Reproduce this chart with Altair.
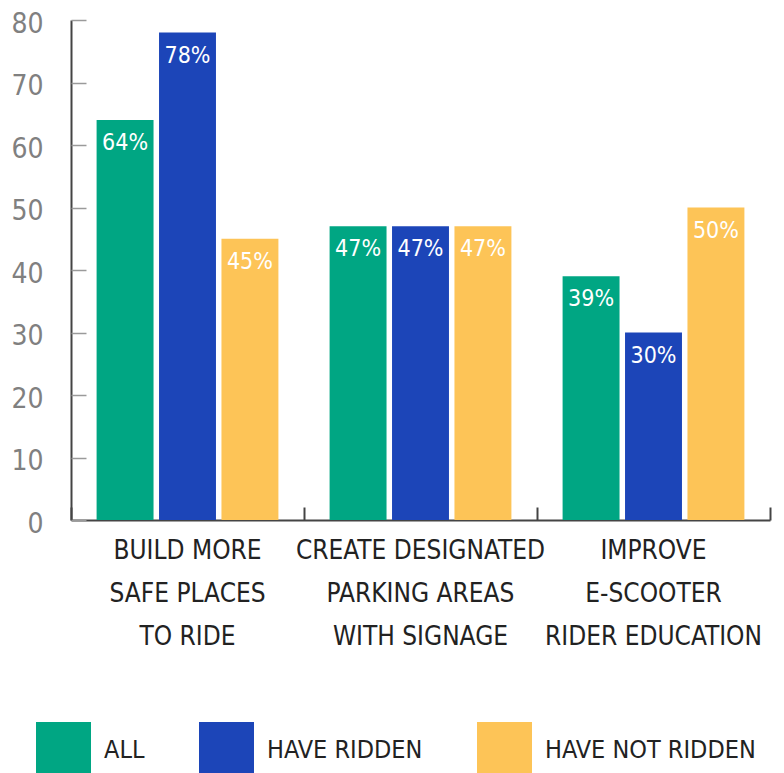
import altair as alt
import pandas as pd

categories = [
    "BUILD MORE|SAFE PLACES|TO RIDE",
    "CREATE DESIGNATED|PARKING AREAS|WITH SIGNAGE",
    "IMPROVE|E-SCOOTER|RIDER EDUCATION",
]
series = ["ALL", "HAVE RIDDEN", "HAVE NOT RIDDEN"]
all_vals = [64, 47, 39]
ridden_vals = [78, 47, 30]
not_ridden_vals = [45, 47, 50]
colors = ["#00A683", "#1C45B8", "#FDC457"]
y_ticks = [0, 10, 20, 30, 40, 50, 60, 70, 80]

rows = []
for s, vals in zip(series, [all_vals, ridden_vals, not_ridden_vals]):
    for c, v in zip(categories, vals):
        rows.append({"category": c, "group": s, "value": v, "label": f"{v}%"})
df = pd.DataFrame(rows)

FONT = "DejaVu Sans Condensed, Liberation Sans Narrow, Roboto, sans-serif"

xo = alt.XOffset("group:N", sort=series,
                 scale=alt.Scale(paddingInner=0.088, paddingOuter=0.41))

bars = alt.Chart(df).mark_bar().encode(
    x=alt.X("category:N", sort=categories,
            scale=alt.Scale(paddingInner=0, paddingOuter=0),
            axis=alt.Axis(title=None, labelAngle=0,
                          labelExpr="split(datum.label, '|')",
                          ticks=False, tickSize=0, labelPadding=17,
                          labelFontSize=26, labelFont=FONT, labelColor="#222222",
                          labelLineHeight=43, labelLimit=0,
                          domainColor="#444444", domainWidth=2)),
    xOffset=xo,
    y=alt.Y("value:Q", scale=alt.Scale(domain=[0, 80], nice=False),
            axis=alt.Axis(title=None, values=y_ticks, ticks=False, tickSize=0,
                          labelPadding=28, labelFontSize=28, labelFont=FONT,
                          labelOffset=4,
                          labelColor="#808080", domainColor="#444444",
                          domainWidth=2, grid=False)),
    color=alt.Color("group:N", sort=series,
                    scale=alt.Scale(domain=series, range=colors),
                    legend=alt.Legend(title=None, orient="none", legendX=-35,
                                      legendY=702, direction="horizontal",
                                      symbolType="square", symbolSize=3025,
                                      symbolStrokeWidth=0, symbolOpacity=1,
                                      labelFontSize=25, labelFont=FONT,
                                      labelColor="#222222", labelOffset=13,
                                      columnPadding=54, padding=0, labelLimit=0)),
)

text = alt.Chart(df).mark_text(baseline="top", dy=12, color="white",
                               fontSize=23, font=FONT).encode(
    x=alt.X("category:N", sort=categories,
            axis=alt.Axis(title=None, orient="bottom", offset=-13, tickSize=13,
                          tickBand="extent", labels=False, domain=False,
                          ticks=True, tickColor="#444444", tickWidth=2)),
    xOffset=xo,
    y=alt.Y("value:Q",
            axis=alt.Axis(title=None, orient="left", offset=-15, tickSize=15,
                          labels=False, domain=False, ticks=True, values=y_ticks,
                          tickColor="#9a9a9a", tickWidth=1.5, grid=False)),
    text="label:N",
)

chart = alt.layer(bars, text).resolve_axis(x="independent", y="independent").properties(
    width=699, height=500,
    padding={"left": 63, "top": 12, "right": 6, "bottom": 253},
    autosize=alt.AutoSizeParams(type="none"),
).configure_view(stroke=None)

chart.save("out.html", embed_options={"renderer": "svg", "actions": False})
